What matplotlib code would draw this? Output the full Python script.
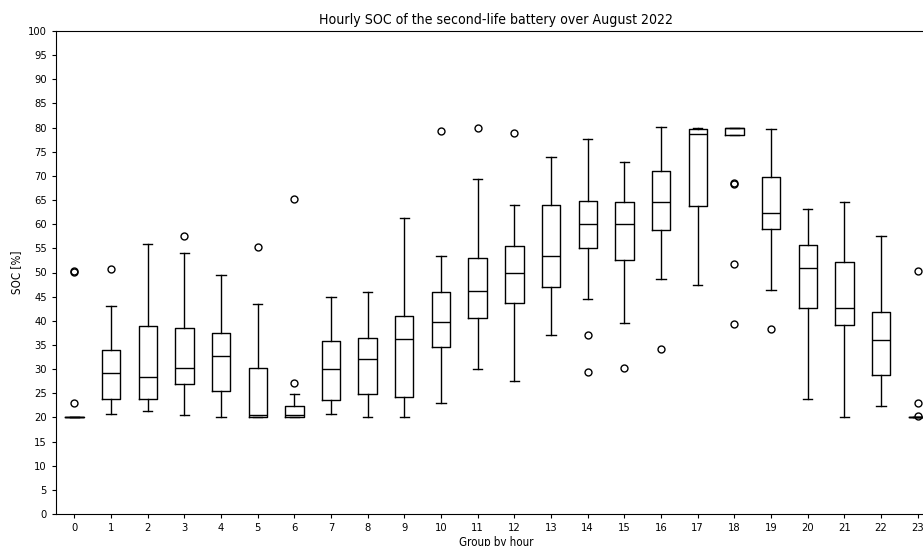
import matplotlib
matplotlib.use("Agg")
import matplotlib.pyplot as plt

# Hour-of-day groups
hours = list(range(24))

# Box statistics of the SOC [%] per hour
whisker_low = [20.0, 20.8, 21.4, 20.5, 20.0, 20.0, 20.0, 20.8, 20.1, 20.1, 22.9, 30.0,
               27.5, 37.1, 44.5, 39.5, 48.7, 47.5, 78.4, 46.3, 23.8, 20.1, 22.4, 20.0]
q1 = [20.0, 23.9, 23.9, 27.0, 25.5, 20.0, 20.0, 23.7, 24.8, 24.2, 34.6, 40.5,
      43.7, 46.9, 55.0, 52.5, 58.8, 63.7, 78.4, 59.1, 42.7, 39.1, 28.7, 20.0]
median = [20.0, 29.1, 28.4, 30.3, 32.8, 20.6, 20.5, 30.0, 32.1, 36.3, 39.8, 46.1,
          49.9, 53.4, 60.0, 60.0, 64.5, 78.7, 80.0, 62.3, 50.9, 42.6, 36.0, 20.0]
q3 = [20.0, 33.9, 38.9, 38.6, 37.4, 30.2, 22.3, 35.8, 36.4, 41.0, 45.9, 52.9,
      55.5, 64.0, 64.8, 64.5, 71.1, 79.7, 80.0, 69.7, 55.6, 52.2, 41.8, 20.0]
whisker_high = [20.0, 43.1, 56.0, 54.1, 49.4, 43.4, 24.8, 45.0, 46.0, 61.2, 53.5, 69.4,
                64.0, 74.0, 77.6, 72.9, 80.1, 80.0, 80.0, 79.7, 63.2, 64.5, 57.6, 20.0]
outliers = [
    [50.2, 50.3, 22.9],
    [50.8],
    [],
    [57.6],
    [],
    [55.3],
    [65.3, 27.2],
    [],
    [],
    [],
    [79.3],
    [79.9],
    [78.9],
    [],
    [37.1, 29.3],
    [30.3],
    [34.2],
    [],
    [68.6, 68.3, 51.8, 39.3],
    [38.4],
    [],
    [],
    [],
    [50.3, 22.9, 20.3],
]

title = "Hourly SOC of the second-life battery over August 2022"
x_label = "Group by hour"
y_label = "SOC [%]"

stats = []
for h in hours:
    stats.append({
        "label": str(h),
        "whislo": whisker_low[h],
        "q1": q1[h],
        "med": median[h],
        "q3": q3[h],
        "whishi": whisker_high[h],
        "fliers": outliers[h],
    })

plt.rcParams["font.family"] = "DejaVu Sans"
plt.rcParams["font.stretch"] = "condensed"

fig = plt.figure(figsize=(9.23, 5.46), dpi=100)
ax = fig.add_axes([56 / 923, 32 / 546, 880 / 923, 483 / 546])

lw = 1.0
ax.bxp(
    stats,
    positions=hours,
    widths=0.5,
    boxprops=dict(color="black", linewidth=lw),
    medianprops=dict(color="black", linewidth=lw),
    whiskerprops=dict(color="black", linewidth=lw),
    capprops=dict(color="black", linewidth=lw),
    flierprops=dict(marker="o", markerfacecolor="none", markeredgecolor="black",
                    markersize=5, markeredgewidth=1.0),
)

ax.set_xlim(-0.5, 23.5)
ax.set_ylim(0, 100)
ax.set_yticks(range(0, 101, 5))
ax.set_xticks(hours)
ax.set_xticklabels([str(h) for h in hours])
ax.tick_params(labelsize=8, length=3, width=0.8)
for s in ax.spines.values():
    s.set_linewidth(0.8)

ax.set_title(title, fontsize=10.1, pad=5)
ax.set_xlabel(x_label, fontsize=8.3, labelpad=2)
ax.set_ylabel(y_label, fontsize=8.3, labelpad=4)

fig.savefig("out.png", dpi=100)
